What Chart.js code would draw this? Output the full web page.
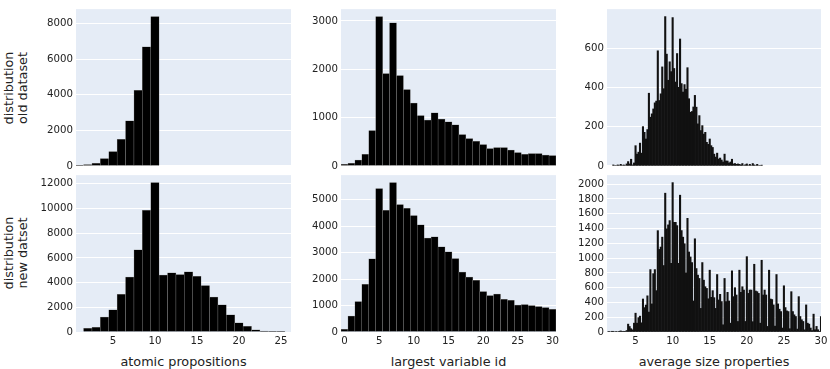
<!DOCTYPE html>
<html><head><meta charset="utf-8">
<script src="https://cdn.jsdelivr.net/npm/chart.js@4.4.1/dist/chart.umd.min.js"></script>
<style>
html,body{margin:0;padding:0;background:#fff;}
body{width:830px;height:369px;position:relative;overflow:hidden;font-family:"DejaVu Sans",Verdana,sans-serif;color:#222;}
.cw{position:absolute;}
.xt{position:absolute;font-size:12.8px;line-height:15px;white-space:nowrap;transform:translateX(-50%);}
.yt{position:absolute;font-size:12.8px;line-height:14px;text-align:center;white-space:nowrap;transform:translate(-50%,-50%) rotate(-90deg);}
</style></head><body>
<div class="yt" style="left:16px;top:88px;">distribution<br>old dataset</div>
<div class="yt" style="left:16px;top:253px;">distribution<br>new datset</div>
<div class="xt" style="left:183.5px;top:354px;">atomic propositions</div>
<div class="xt" style="left:448.5px;top:354px;">largest variable id</div>
<div class="xt" style="left:714px;top:354px;">average size properties</div>
<script>
// ---------- data ----------
const atomicOldX = [1,2,3,4,5,6,7,8,9,10];
const atomicOldCounts = [15,75,150,410,800,1500,2530,4250,6700,8400];
const atomicNewX = [2,3,4,5,6,7,8,9,10,11,12,13,14,15,16,17,18,19,20,21,22,23,24,25];
const atomicNewCounts = [300,380,1200,1800,3050,4450,6650,9850,12100,4600,4800,4650,4870,4500,3750,2820,2200,1400,750,450,180,70,30,10];

const varIdX = [0,1,2,3,4,5,6,7,8,9,10,11,12,13,14,15,16,17,18,19,20,21,22,23,24,25,26,27,28,29,30];
const varIdOldCounts = [30,55,120,240,730,3090,1910,2960,1870,1580,1300,1040,950,1100,970,910,850,650,565,510,440,360,380,380,325,275,240,255,255,225,215];
const varIdNewCounts = [100,600,1150,1800,2770,5420,4600,5650,4820,4680,4400,4050,3550,3600,3220,3030,2780,2270,2080,1950,1530,1380,1430,1240,1200,1020,1040,1000,960,920,860];

const sizeBinWidth = 0.2;
const sizeOldStart = 2.0;
const sizeOldCounts = [
 5,0,0,5,0,
 8,0,5,0,10,
 22,10,34,5,15,
 103,60,70,116,65,
 200,171,137,185,370,
 248,265,290,321,330,
 586,333,367,504,393,
 760,569,436,530,480,
 755,496,427,572,400,
 646,419,376,414,390,
 500,342,273,277,300,
 359,299,214,256,180,
 205,162,171,120,110,
 137,103,94,60,45,
 65,35,40,30,20,
 60,25,25,15,20,
 34,10,12,8,10,
 8,5,12,0,6,
 10,0,8,0,12,
 5,0,8,0,0,
 4];
const sizeNewStart = 1.2;
const sizeNewCounts = [
 0,5,0,10,
 10,0,5,0,10,
 15,5,10,5,20,
 107,75,45,30,120,
 255,120,195,215,125,
 447,330,365,490,270,
 845,380,790,845,560,
 1372,1118,1150,1284,900,
 1879,1396,1450,1508,930,
 2022,1485,1485,1440,930,
 1852,1373,1284,1195,800,
 1539,1083,1016,940,420,
 1262,859,770,725,320,
 940,702,613,590,450,
 837,470,560,465,320,
 778,434,510,412,98,
 725,412,537,420,120,
 828,479,600,501,143,
 837,537,613,568,143,
 1020,523,568,568,140,
 917,555,546,523,120,
 971,501,568,501,76,
 837,447,440,367,80,
 778,380,309,277,54,
 626,331,286,277,45,
 546,277,233,210,40,
 479,210,166,143,30,
 367,120,107,54,20,
 242,31,76,31,10,
 210];

// tick labels
const atomicTicks = [5,10,15,20,25];
const varIdTicks = [0,5,10,15,20,25,30];
const sizeTicks = [5,10,15,20,25,30];
const atomicOldYTicks = [0,2000,4000,6000,8000];
const atomicNewYTicks = [0,2000,4000,6000,8000,10000,12000];
const varIdOldYTicks = [0,1000,2000,3000];
const varIdNewYTicks = [0,1000,2000,3000,4000,5000];
const sizeOldYTicks = [0,200,400,600];
const sizeNewYTicks = [0,200,400,600,800,1000,1200,1400,1600,1800,2000];

function binCenters(start, width, n){
  const out=[]; for(let i=0;i<n;i++) out.push(Math.round((start+i*width)*100)/100); return out;
}
const sizeOldX = binCenters(sizeOldStart, sizeBinWidth, sizeOldCounts.length);
const sizeNewX = binCenters(sizeNewStart, sizeBinWidth, sizeNewCounts.length);

// ---------- layout ----------
const cols = [
  {left:76, width:215, min:0.6, max:26.2, bw:0.5},
  {left:341, width:215, min:-0.5, max:30.5, bw:0.5},
  {left:607, width:214, min:1.15, max:30, bw:0}
];
const rows = [{top:9, height:158}, {top:174, height:158}];

Chart.defaults.font.family = "'DejaVu Sans', Verdana, sans-serif";
Chart.defaults.font.size = 10.2;
Chart.defaults.color = '#222';

const bgPlugin = {id:'bg', beforeDraw(c){const a=c.chartArea, ctx=c.ctx; ctx.save(); ctx.fillStyle='#E5ECF6'; ctx.fillRect(a.left,a.top,a.right-a.left,a.bottom-a.top); ctx.restore();}};

function makeChart(ci, ri, xs, ys, xTicks, yTicks){
  const col = cols[ci], row = rows[ri];
  const showX = ri === 1;
  const YW = 40, PT = ri===0 ? 9 : 8, PR = 10, XH = showX ? 18 : 0, PB = showX ? 2 : 8;
  const div = document.createElement('div');
  div.className = 'cw';
  div.style.left = (col.left - YW) + 'px';
  div.style.top = (row.top - PT) + 'px';
  div.style.width = (YW + col.width + PR) + 'px';
  div.style.height = (PT + row.height + XH + PB) + 'px';
  const cv = document.createElement('canvas');
  div.appendChild(cv);
  document.body.appendChild(div);
  const ds = {
    data: xs.map((x,i)=>({x:x, y:ys[i]})),
    backgroundColor: col.bw ? '#000' : '#111', borderColor:'#808080', borderWidth:col.bw,
    barPercentage:1, categoryPercentage:1, clip:0
  };
  if(!col.bw) ds.inflateAmount = 0.3;
  new Chart(cv, {
    type:'bar',
    data:{datasets:[ds]},
    options:{
      responsive:true, maintainAspectRatio:false, animation:false,
      layout:{padding:{top:PT, right:PR, bottom:PB, left:0}},
      plugins:{legend:{display:false}, tooltip:{enabled:false}},
      scales:{
        x:{type:'linear', min:col.min, max:col.max, display:showX, offset:false,
           grid:{display:false, drawTicks:false}, border:{display:false},
           ticks:{autoSkip:false, maxRotation:0, padding:3, callback:v=>String(v)},
           afterBuildTicks:s=>{s.ticks = xTicks.map(v=>({value:v}));},
           afterFit:s=>{if(showX) s.height = XH;}},
        y:{type:'linear', min:0, max:Math.max(...ys)*1.05,
           grid:{color:'#ffffff', lineWidth:1, drawTicks:false}, border:{display:false},
           ticks:{autoSkip:false, padding:3, callback:v=>String(v)},
           afterBuildTicks:s=>{s.ticks = yTicks.map(v=>({value:v}));},
           afterFit:s=>{s.width = YW;}}
      }
    },
    plugins:[bgPlugin]
  });
}

makeChart(0,0,atomicOldX,atomicOldCounts,atomicTicks,atomicOldYTicks);
makeChart(0,1,atomicNewX,atomicNewCounts,atomicTicks,atomicNewYTicks);
makeChart(1,0,varIdX,varIdOldCounts,varIdTicks,varIdOldYTicks);
makeChart(1,1,varIdX,varIdNewCounts,varIdTicks,varIdNewYTicks);
makeChart(2,0,sizeOldX,sizeOldCounts,sizeTicks,sizeOldYTicks);
makeChart(2,1,sizeNewX,sizeNewCounts,sizeTicks,sizeNewYTicks);
</script>
</body></html>
